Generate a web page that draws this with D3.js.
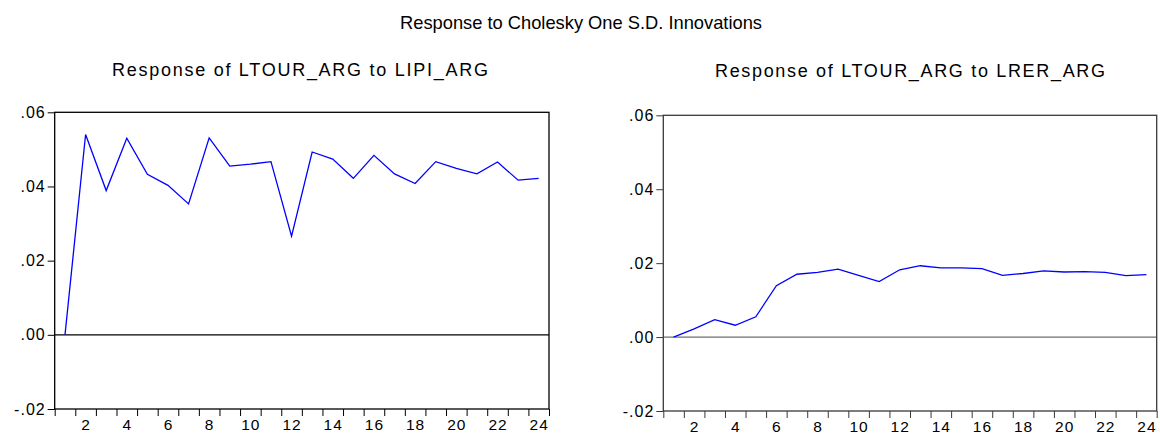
<!DOCTYPE html>
<html>
<head>
<meta charset="utf-8">
<script src="https://cdn.jsdelivr.net/npm/d3@7"></script>
<style>
  html, body { margin: 0; padding: 0; background: #fff; }
  svg { display: block; }
  text { font-family: "Liberation Sans", Arial, sans-serif; fill: #000; }
</style>
</head>
<body>
<svg id="chart" width="1160" height="434"></svg>
<script>
// ---- data ----
const periods = [1,2,3,4,5,6,7,8,9,10,11,12,13,14,15,16,17,18,19,20,21,22,23,24];
const respLIPI = [0.0000,0.0540,0.0389,0.0530,0.0433,0.0403,0.0353,0.0531,0.0455,0.0460,0.0467,0.0266,
                  0.0493,0.0474,0.0422,0.0484,0.0434,0.0408,0.0467,0.0449,0.0434,0.0466,0.0417,0.0422];
const respLRER = [0.0000,0.0022,0.0047,0.0032,0.0055,0.0139,0.0170,0.0175,0.0184,0.0167,0.0150,0.0182,
                  0.0193,0.0187,0.0187,0.0185,0.0167,0.0172,0.0179,0.0176,0.0177,0.0175,0.0166,0.0169];
const yTickValues = [-0.02, 0.00, 0.02, 0.04, 0.06];
const yTickLabels = ["-.02", ".00", ".02", ".04", ".06"];
const xLabelValues = [2,4,6,8,10,12,14,16,18,20,22,24];
const mainTitle = "Response to Cholesky One S.D. Innovations";
const panelTitles = ["Response of LTOUR_ARG to LIPI_ARG", "Response of LTOUR_ARG to LRER_ARG"];

const svg = d3.select("#chart");

svg.append("text")
  .attr("x", 581).attr("y", 28.5)
  .attr("text-anchor", "middle")
  .attr("font-size", 18.5)
  .attr("textLength", 362).attr("lengthAdjust", "spacingAndGlyphs")
  .text(mainTitle);

const panels = [
  { x0: 54.7, x1: 549, yTop: 112.3, yBot: 409, data: respLIPI, title: panelTitles[0],
    tx: 300, ty: 76, tlen: 376, frame: "#000", zero: "#000" },
  { x0: 663.3, x1: 1156.7, yTop: 115.3, yBot: 411, data: respLRER, title: panelTitles[1],
    tx: 910, ty: 77, tlen: 390, frame: "#3a3a3a", zero: "#6e6e6e" }
];

panels.forEach(p => {
  const x = d3.scaleLinear().domain([0.5, 24.5]).range([p.x0, p.x1]);
  const y = d3.scaleLinear().domain([-0.02, 0.06]).range([p.yBot, p.yTop]);
  const g = svg.append("g");

  g.append("text")
    .attr("x", p.tx).attr("y", p.ty)
    .attr("text-anchor", "middle")
    .attr("font-size", 18)
    .attr("textLength", p.tlen).attr("lengthAdjust", "spacing")
    .text(p.title);

  // y axis
  const yAxis = g.append("g")
    .attr("transform", `translate(${p.x0},0)`)
    .call(d3.axisLeft(y).tickValues(yTickValues)
      .tickFormat((d, i) => yTickLabels[i]).tickSize(7).tickPadding(2));
  yAxis.select(".domain").remove();
  yAxis.selectAll("line").attr("stroke", p.frame).attr("stroke-width", 1);
  yAxis.selectAll("text").attr("font-size", 16).attr("font-family", "Liberation Sans, Arial, sans-serif")
    .style("letter-spacing", "1px");

  // x ticks at band boundaries
  const xTicks = g.append("g")
    .attr("transform", `translate(0,${p.yBot})`)
    .call(d3.axisBottom(x).tickValues(d3.range(0.5, 25, 1)).tickFormat("").tickSize(7));
  xTicks.select(".domain").remove();
  xTicks.selectAll("line").attr("stroke", p.frame);

  const xLabels = g.append("g")
    .attr("transform", `translate(0,${p.yBot})`)
    .call(d3.axisBottom(x).tickValues(xLabelValues).tickSize(0).tickPadding(10));
  xLabels.select(".domain").remove();
  xLabels.selectAll("text").attr("font-size", 15.5).attr("font-family", "Liberation Sans, Arial, sans-serif")
    .style("letter-spacing", "1px");

  // zero line
  g.append("line")
    .attr("x1", p.x0).attr("x2", p.x1)
    .attr("y1", y(0)).attr("y2", y(0))
    .attr("stroke", p.zero).attr("stroke-width", 1.2);

  // frame
  g.append("rect")
    .attr("x", p.x0).attr("y", p.yTop)
    .attr("width", p.x1 - p.x0).attr("height", p.yBot - p.yTop)
    .attr("fill", "none").attr("stroke", p.frame).attr("stroke-width", 1.3);

  // line
  const line = d3.line().x((d, i) => x(periods[i])).y(d => y(d));
  g.append("path")
    .datum(p.data)
    .attr("d", line)
    .attr("fill", "none")
    .attr("stroke", "#0000ff")
    .attr("stroke-width", 1.3)
    .attr("stroke-linejoin", "miter");
});
</script>
</body>
</html>
